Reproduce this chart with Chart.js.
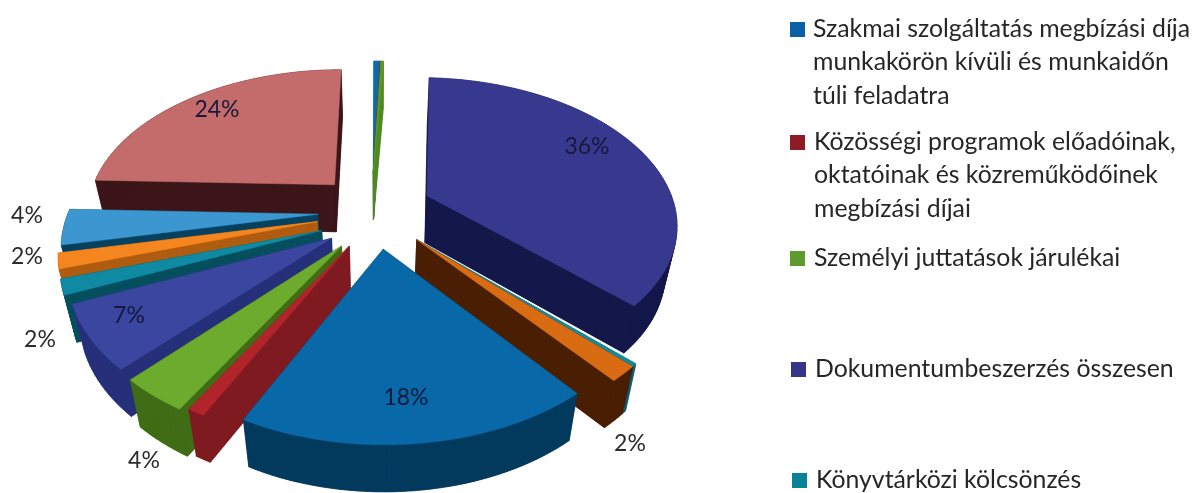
<!DOCTYPE html>
<html>
<head>
<meta charset="utf-8">
<script src="https://cdn.jsdelivr.net/npm/chart.js@4"></script>
<style>
  html, body { margin: 0; background: #fff; }
  canvas { display: block; }
</style>
</head>
<body>
<canvas id="pie3d" width="1194" height="493"></canvas>
<script>
// legend text, only these five entries are visible in the picture
const legendEntries = [
  ['Szakmai szolgáltatás megbízási díja', 'munkakörön kívüli és munkaidőn', 'túli feladatra'],
  ['Közösségi programok előadóinak,', 'oktatóinak és közreműködőinek', 'megbízási díjai'],
  ['Személyi juttatások járulékai'],
  ['Dokumentumbeszerzés összesen'],
  ['Könyvtárközi kölcsönzés']
];
const categories = legendEntries.map(e => e.join(' '));

// slice values in percent, clockwise from the top
const values = [0.5, 0.05, 0.2, 36.4, 0.3, 1.6, 18.2, 0.9, 3.6, 6.6, 1.6, 1.6, 3.8, 24.4];
// which slices carry a percent label
const labelled = [false, false, false, true, false, true, true, false, true, true, true, true, true, true];

// colours
const topColors = ['#0a6cab', '#a01c22', '#5d9a26', '#37398f', '#0e8ba0', '#d96c12', '#0868a8', '#b0242a', '#6cab2c', '#3a46a0', '#1089a3', '#f5861f', '#3c96d0', '#c46c6c'];
const wallColors = ['#0a6cab', '#7e1a20', '#4d8a20', '#14174a', '#0a5c6c', '#4a1e02', '#023a5e', '#7e1a20', '#3f6c14', '#26307a', '#044e5e', '#b05c10', '#06415f', '#3c1518'];
const legendColors = ['#0a5fa5', '#8e1c24', '#5f9a2c', '#35358a', '#0a8296'];

// view of the pie: one perspective for all slices
const view = { cx: 378, cy: 207, a: 248, b: 143, k: 0.18, depth: 47, shrink: 0.04 };
// how far each slice is pulled out, in pie radii
const explodeU = [-0.02, -0.02, -0.02, 0.2, 0.15, 0.15, 0.02, -0.11, -0.14, -0.18, -0.22, -0.24, -0.24, -0.18];
const explodeV = [-0.25, -0.25, -0.25, -0.08, 0.22, 0.22, 0.28, 0.26, 0.26, 0.21, 0.16, 0.1, 0.05, -0.16];

// label places
const labelX = [0, 0, 0, 587, 0, 630, 406, 0, 144, 129, 40, 27, 27, 217];
const labelY = [0, 0, 0, 147, 0, 444, 398, 0, 461, 316, 340, 257, 216, 110];
const labelFont = '23px Lato, "Open Sans", sans-serif';
const legendFont = '24.8px Lato, "Open Sans", sans-serif';
const legendX = [790, 790, 790, 791, 792];
const legendTextX = [813, 814, 814, 815, 816];
const legendY = [29, 142, 258, 369, 480];
const legendLine = 33.5;

function project(u, v, t) {
  const w = 1 - view.k * v;
  const s = 1 - view.shrink * t;
  return [view.cx + view.a * u / w * s, view.cy + view.b * v / w + view.depth * t];
}

// outline of a slice as plane points, angles come from the arc element
function outline(el, i) {
  const du = explodeU[i], dv = explodeV[i];
  const steps = Math.max(2, Math.ceil((el.endAngle - el.startAngle) / 0.03));
  const pts = [[du, dv]];
  for (let n = 0; n <= steps; n++) {
    const ang = el.startAngle + (el.endAngle - el.startAngle) * n / steps;
    pts.push([du + Math.cos(ang), dv + Math.sin(ang)]);
  }
  return pts;
}

function fillPoly(ctx, poly, color) {
  ctx.fillStyle = color;
  ctx.strokeStyle = color;
  ctx.lineWidth = 0.5;
  ctx.beginPath();
  poly.forEach((p, n) => n ? ctx.lineTo(p[0], p[1]) : ctx.moveTo(p[0], p[1]));
  ctx.closePath();
  ctx.fill();
  ctx.stroke();
}

// draws the slices of the pie controller in perspective, back to front
const pie3dPlugin = {
  id: 'pie3d',
  beforeDatasetDraw(chart) {
    const ctx = chart.ctx;
    const arcs = chart.getDatasetMeta(0).data;
    const mid = el => (el.startAngle + el.endAngle) / 2;
    const order = arcs.map((el, i) => i).sort((p, q) => Math.sin(mid(arcs[p])) - Math.sin(mid(arcs[q])));
    order.forEach(i => {
      const pts = outline(arcs[i], i);
      const top = pts.map(p => project(p[0], p[1], 0));
      const bottom = pts.map(p => project(p[0], p[1], 1));
      fillPoly(ctx, bottom, wallColors[i]);
      top.forEach((p, n) => {
        const m = (n + 1) % top.length;
        fillPoly(ctx, [p, top[m], bottom[m], bottom[n]], wallColors[i]);
      });
      fillPoly(ctx, top, topColors[i]);
    });
    return false;
  },
  afterDraw(chart) {
    const ctx = chart.ctx;
    ctx.save();
    ctx.textBaseline = 'middle';
    ctx.font = labelFont;
    ctx.textAlign = 'center';
    values.forEach((v, i) => {
      if (!labelled[i]) return;
      const onSlice = [3, 6, 9, 13].includes(i);
      ctx.fillStyle = onSlice ? '#17183c' : '#2b2b2b';
      ctx.fillText(Math.round(v) + '%', labelX[i], labelY[i]);
    });
    ctx.font = legendFont;
    ctx.textAlign = 'left';
    legendEntries.forEach((lines, i) => {
      ctx.fillStyle = legendColors[i];
      ctx.fillRect(legendX[i], legendY[i] - 7, 15, 15);
      ctx.fillStyle = '#262626';
      lines.forEach((line, n) => ctx.fillText(line, legendTextX[i], legendY[i] + n * legendLine));
    });
    ctx.restore();
  }
};

new Chart(document.getElementById('pie3d'), {
  type: 'pie',
  data: {
    labels: values.map((v, i) => categories[i] || ''),
    datasets: [{ data: values, backgroundColor: topColors, borderWidth: 0 }]
  },
  options: {
    responsive: false,
    animation: false,
    plugins: { legend: { display: false }, tooltip: { enabled: false } }
  },
  plugins: [pie3dPlugin]
});
</script>
</body>
</html>
